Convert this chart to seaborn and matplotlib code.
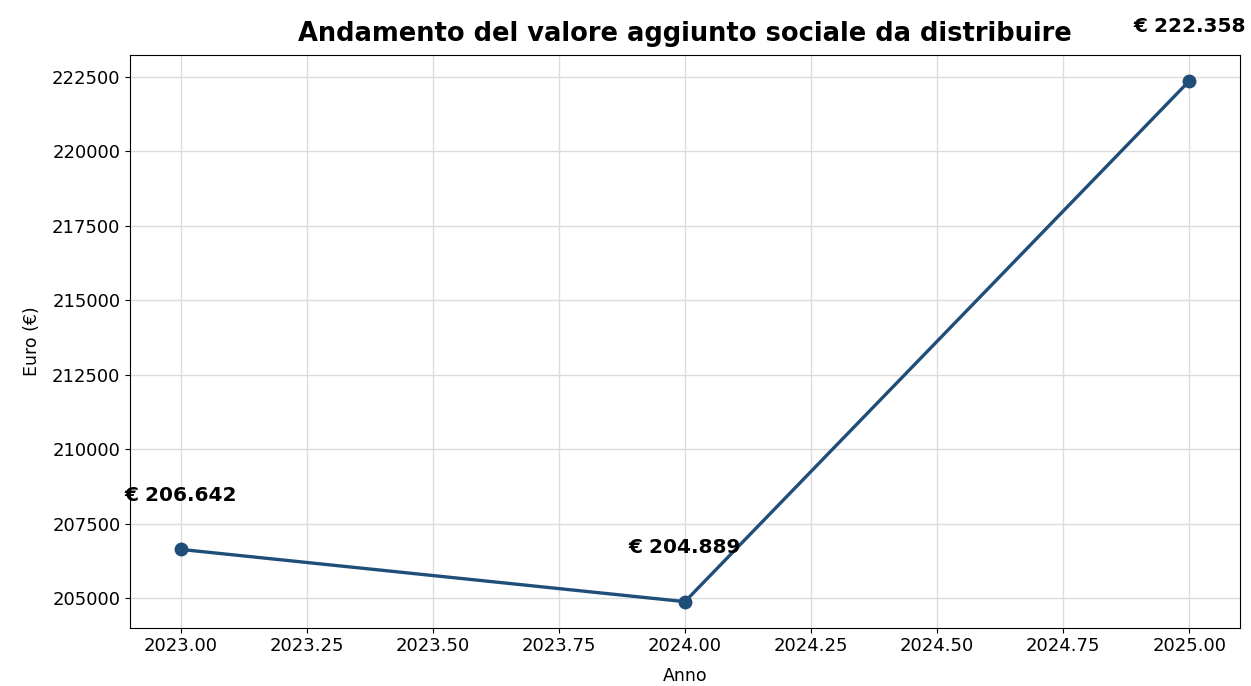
import pandas as pd
import matplotlib
matplotlib.use("Agg")
import matplotlib.pyplot as plt
import seaborn as sns

# ===============================
# DATA
# ===============================
anni = [2023, 2024, 2025]
valori = [206642, 204889, 222358]
etichette = ["€ 206.642", "€ 204.889", "€ 222.358"]

df = pd.DataFrame({"Anno": anni, "Euro": valori})

# ===============================
# PLOT
# ===============================
sns.set_style("ticks")
plt.rcParams["font.family"] = ["DejaVu Sans"]
plt.rcParams["text.color"] = "black"
plt.rcParams["axes.labelcolor"] = "black"
plt.rcParams["xtick.color"] = "black"
plt.rcParams["ytick.color"] = "black"

fig, ax = plt.subplots(figsize=(12.51, 6.86), dpi=100)
sns.lineplot(data=df, x="Anno", y="Euro", marker="o", color="#1f4e79",
             linewidth=2.4, markersize=10, markeredgewidth=0, ax=ax)

for x, y, lab in zip(anni, valori, etichette):
    ax.annotate(lab, (x, y), xytext=(0, 39), textcoords="offset points",
                ha="center", va="center", fontsize=14.5, fontweight="bold")

ax.grid(True, color="#dcdcdc", linewidth=1)
ax.set_title("Andamento del valore aggiunto sociale da distribuire",
             fontsize=18.5, fontweight="bold", pad=10)
ax.set_xlabel("Anno", fontsize=12.5, labelpad=8)
ax.set_ylabel("Euro (€)", fontsize=12.5, labelpad=8)
ax.tick_params(labelsize=13)
for s in ax.spines.values():
    s.set_color("black")

fig.subplots_adjust(left=0.104, right=0.991, top=0.92, bottom=0.085)
fig.savefig("out.png", dpi=100)
